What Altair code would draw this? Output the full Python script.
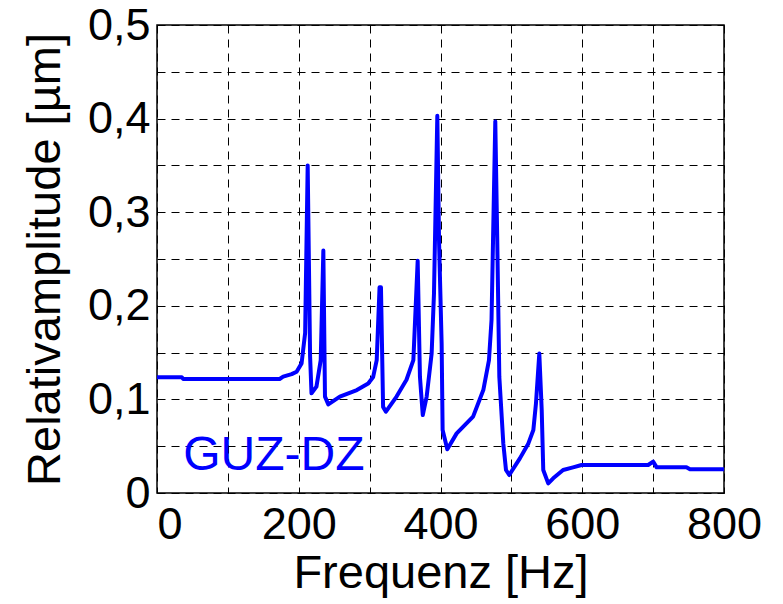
import altair as alt
import pandas as pd

freq = [0, 35, 37, 173, 178, 190, 197, 204, 209, 212.6,
        216, 218, 225, 231, 234.7, 237, 241.7, 258, 282, 298,
        305, 310, 314, 316, 319, 323, 338, 352, 361.7, 367.8,
        371, 375, 380.5, 387.5, 390.8, 395.5, 398, 401.6, 403, 409.6,
        422.8, 446, 460.4, 468.4, 472, 477.3, 480, 483, 488.6, 492.4,
        497, 512, 524, 531, 534.7, 539.4, 542.8, 545, 552, 559,
        573, 587, 599, 693, 700, 705, 747, 752, 800]
amp = [0.1236, 0.1236, 0.1218, 0.1218, 0.1243, 0.127, 0.1296, 0.1385, 0.171, 0.350,
       0.146, 0.1065, 0.1136, 0.142, 0.259, 0.103, 0.0947, 0.103, 0.110, 0.117,
       0.124, 0.142, 0.2197, 0.2197, 0.092, 0.0869, 0.103, 0.121, 0.142, 0.248,
       0.124, 0.0833, 0.103, 0.149, 0.213, 0.403, 0.267, 0.160, 0.0673, 0.0467,
       0.0637, 0.0816, 0.110, 0.142, 0.185, 0.397, 0.274, 0.124, 0.053, 0.0246,
       0.0192, 0.037, 0.053, 0.0673, 0.0958, 0.149, 0.0887, 0.0246, 0.0103, 0.0157,
       0.0246, 0.0274, 0.0299, 0.0299, 0.0335, 0.0274, 0.0274, 0.0253, 0.0253]

x_ticks = [0, 100, 200, 300, 400, 500, 600, 700, 800]
y_ticks = [0, 0.05, 0.1, 0.15, 0.2, 0.25, 0.3, 0.35, 0.4, 0.45, 0.5]

label_text = ["GUZ-DZ"]
label_x = [37]
label_y = [0.0246]

df = pd.DataFrame({"f": freq, "a": amp})
df_lab = pd.DataFrame({"t": label_text, "f": label_x, "a": label_y})

grid_dash = [8, 6]

x_enc = alt.X(
    "f:Q",
    scale=alt.Scale(domain=[0, 800], nice=False, zero=False),
    axis=alt.Axis(
        values=x_ticks,
        labelExpr="datum.value % 200 == 0 ? datum.label : ''",
        title="Frequenz [Hz]",
        grid=True, gridDash=grid_dash, gridColor="#000000", gridWidth=1, gridOpacity=1,
        ticks=False, domain=False,
        labelFontSize=45, labelPadding=9,
        labelAlign={"condition": {"test": "datum.value == 0", "value": "left"}, "value": "center"},
        titleFontSize=47, titlePadding=3, titleFontWeight="normal",
        labelColor="#000000", titleColor="#000000",
    ),
)
y_enc = alt.Y(
    "a:Q",
    scale=alt.Scale(domain=[0, 0.5], nice=False, zero=False),
    axis=alt.Axis(
        values=y_ticks,
        labelExpr="round(datum.value*20) % 2 == 0 ? (datum.value == 0 ? '0' : replace(format(datum.value, '.1f'), '.', ',')) : ''",
        title="Relativamplitude [µm]",
        grid=True, gridDash=grid_dash, gridColor="#000000", gridWidth=1, gridOpacity=1,
        ticks=False, domain=False,
        labelFontSize=45, labelPadding=7, labelBaseline="middle",
        titleFontSize=47, titlePadding=18, titleFontWeight="normal",
        labelColor="#000000", titleColor="#000000",
    ),
)

line = alt.Chart(df).mark_line(color="#0000FF", strokeWidth=4, strokeJoin="round").encode(
    x=x_enc, y=y_enc
)
text = alt.Chart(df_lab).mark_text(
    align="left", baseline="alphabetic", fontSize=48, color="#0000FF", font="Liberation Sans"
).encode(x="f:Q", y="a:Q", text="t:N")

chart = alt.layer(line, text).properties(
    width=567, height=468,
    autosize=alt.AutoSizeParams(type="none"),
    padding={"left": 157, "top": 25, "right": 59, "bottom": 111},
    background="white",
).configure_view(
    stroke="#000000", strokeWidth=1.5
).configure_axis(
    labelFont="Liberation Sans", titleFont="Liberation Sans"
)

chart.save("out.html", embed_options={"renderer": "svg", "actions": False})
